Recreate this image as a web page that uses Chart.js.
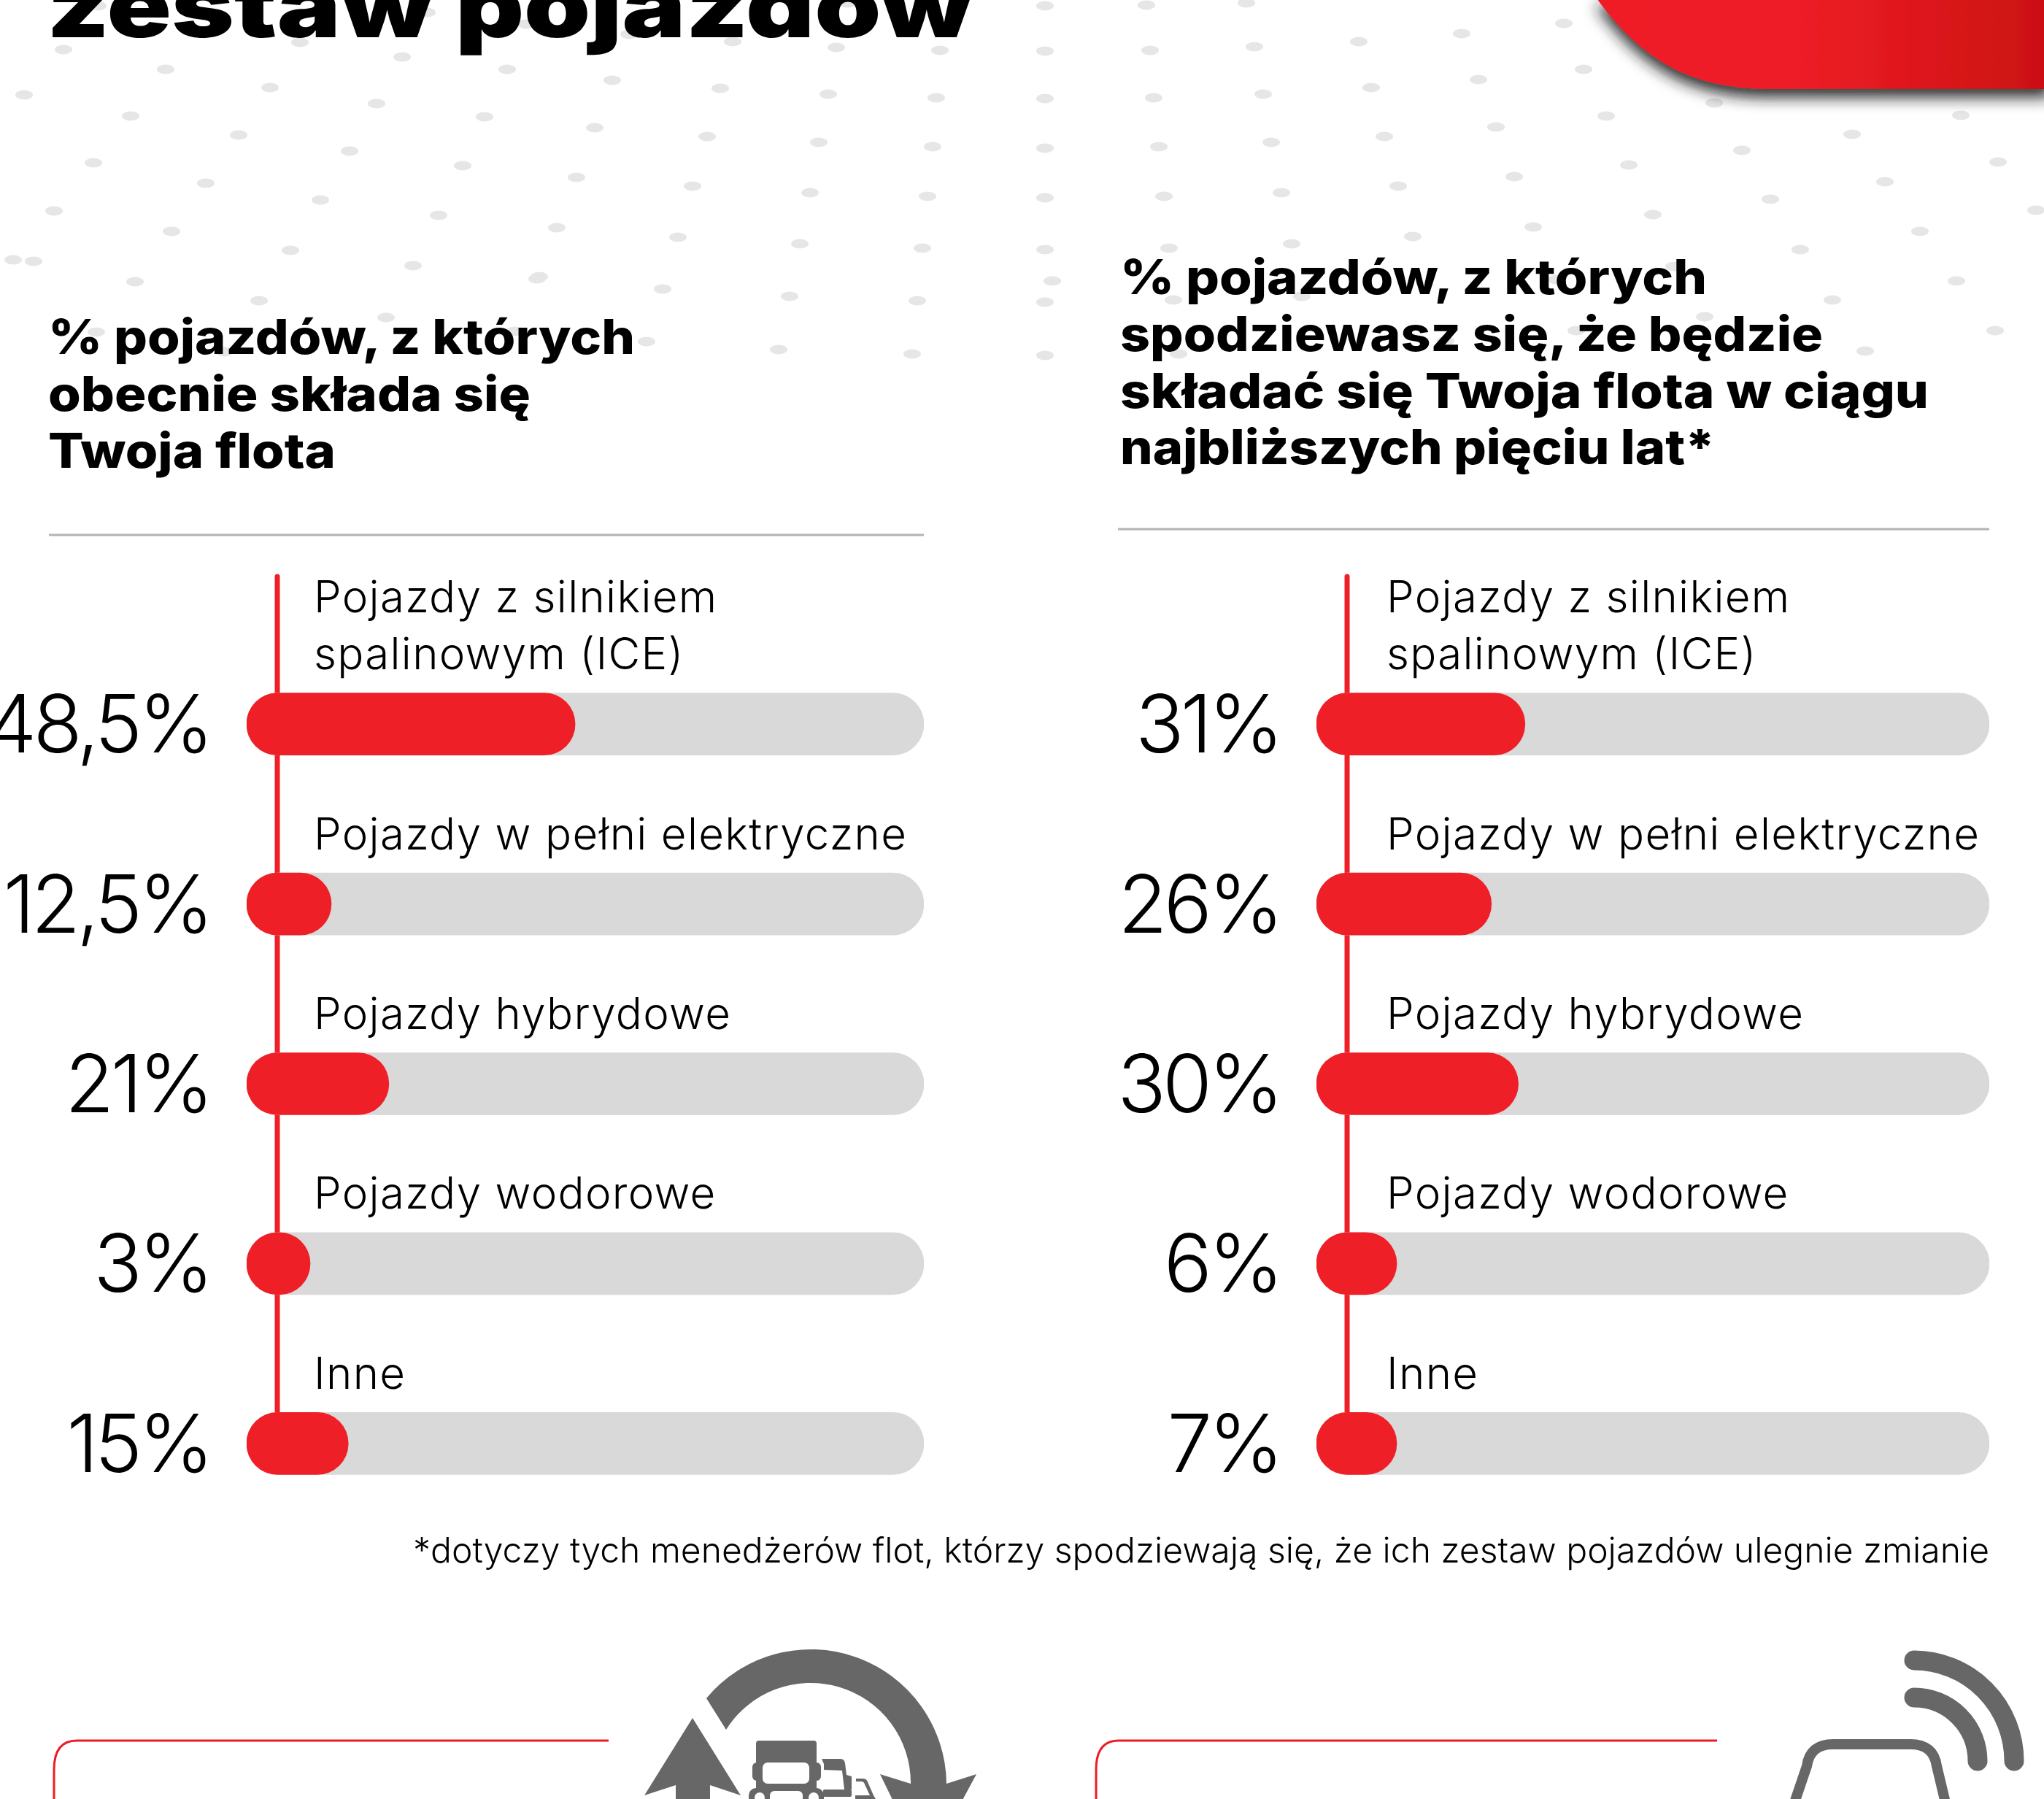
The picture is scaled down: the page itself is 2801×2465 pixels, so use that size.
<!DOCTYPE html>
<html lang="pl">
<head>
<meta charset="utf-8">
<title>Zestaw pojazdów</title>
<script src="https://cdn.jsdelivr.net/npm/chart.js@4"></script>
<style>
  html, body { margin: 0; padding: 0; background: #fff; width: 2801px; height: 2465px; overflow: hidden; }
  svg { position: absolute; left: 0; top: 0; }
  canvas { position: absolute; }
  #chartNow { left: 0; top: 770px; }
  #chartNext { left: 1400px; top: 770px; }
  .title { font: 900 120px Inter, sans-serif; }
  .head { font: 800 66px Inter, sans-serif; }
  .note { font: 300 48px Inter, sans-serif; }
</style>
</head>
<body>
<svg id="page" width="2801" height="2465" viewBox="0 0 2801 2465">
  <defs>
    <linearGradient id="ribbon" x1="0" x2="1" y1="0" y2="0">
      <stop offset="0" stop-color="#ef1f27"/>
      <stop offset="0.45" stop-color="#ed1e26"/>
      <stop offset="1" stop-color="#cb1011"/>
    </linearGradient>
    <filter id="ribbonShadow" x="-10%" y="-10%" width="120%" height="160%">
      <feDropShadow dx="0" dy="12" stdDeviation="10" flood-color="#1a1a1a" flood-opacity="0.9"/>
    </filter>
  </defs>
  <g id="dots" fill="#e6e6e6"></g>

  <path d="M2186,-5 C2250,85 2320,122 2427,122 L2810,122 L2810,-5 Z" fill="url(#ribbon)" filter="url(#ribbonShadow)"/>

  <text class="title" x="64" y="51" textLength="1270" lengthAdjust="spacingAndGlyphs">zestaw pojazdów</text>

  <text class="head" x="66" y="485" textLength="804" lengthAdjust="spacingAndGlyphs">% pojazdów, z których</text>
  <text class="head" x="66" y="563" textLength="661" lengthAdjust="spacingAndGlyphs">obecnie składa się</text>
  <text class="head" x="66" y="641" textLength="394" lengthAdjust="spacingAndGlyphs">Twoja flota</text>
  <line x1="67" x2="1266" y1="733" y2="733" stroke="#b3b3b3" stroke-width="3"/>

  <text class="head" x="1535" y="403" textLength="804" lengthAdjust="spacingAndGlyphs">% pojazdów, z których</text>
  <text class="head" x="1535" y="481" textLength="963" lengthAdjust="spacingAndGlyphs">spodziewasz się, że będzie</text>
  <text class="head" x="1535" y="559" textLength="1108" lengthAdjust="spacingAndGlyphs">składać się Twoja flota w ciągu</text>
  <text class="head" x="1535" y="636" textLength="815" lengthAdjust="spacingAndGlyphs">najbliższych pięciu lat*</text>
  <line x1="1532" x2="2726" y1="725" y2="725" stroke="#b3b3b3" stroke-width="3"/>

  <text class="note" x="566" y="2141" textLength="2160" lengthAdjust="spacingAndGlyphs">*dotyczy tych menedżerów flot, którzy spodziewają się, że ich zestaw pojazdów ulegnie zmianie</text>

  <!-- ramki na dole -->
  <path d="M834,2385 L105,2385 Q74,2385 74,2425 L74,2470" fill="none" stroke="#ed1c24" stroke-width="3"/>
  <path d="M2353,2385 L1533,2385 Q1502,2385 1502,2425 L1502,2470" fill="none" stroke="#ed1c24" stroke-width="3"/>

  <!-- ikona: strzalki i ciezarowki -->
  <g fill="#676767">
    <path d="M968,2327 A186,186 0 0 1 1297,2444 L1248,2444 A137,137 0 0 0 995,2370 Z"/>
    <path d="M1206,2431 L1248,2444 L1297,2444 L1338,2431 L1317,2470 L1225,2470 Z"/>
    <path d="M949,2354 L1015,2460 L973,2446 L973,2470 L926,2470 L926,2446 L883,2460 Z"/>
    <!-- pierwsza ciezarowka -->
    <rect x="1036" y="2385" width="83" height="70" rx="4"/>
    <rect x="1031" y="2415" width="94" height="25" rx="6"/>
    <rect x="1045" y="2415" width="64" height="29" rx="7" fill="#fff"/>
    <rect x="1026" y="2450" width="103" height="25" rx="10"/>
    <circle cx="1041" cy="2463" r="7" fill="#fff"/>
    <circle cx="1115" cy="2463" r="7" fill="#fff"/>
    <rect x="1055" y="2454" width="45" height="20" rx="6" fill="#fff"/>
    <!-- druga -->
    <path d="M1126,2410 L1152,2410 Q1157,2410 1158,2416 L1160,2432 L1167,2434 L1167,2452 L1157,2452 L1154,2426 L1129,2425 L1129,2417 Z"/>
    <rect x="1128" y="2452" width="39" height="10" rx="2"/>
    <rect x="1130" y="2462" width="38" height="6" fill="#fff"/>
    <!-- trzecia -->
    <path d="M1173,2437 L1183,2437 Q1188,2437 1190,2444 L1197,2460 L1200,2465 L1172,2465 L1172,2460 L1192,2460 L1185,2445 Q1184,2441 1180,2441 L1173,2441 Z"/>
  </g>

  <!-- ikona: auto i sygnal -->
  <g fill="none" stroke="#676767" stroke-linecap="round">
    <path d="M2623,2275 A137,138 0 0 1 2760,2413" stroke-width="27"/>
    <path d="M2623,2326 A87,87 0 0 1 2710,2413" stroke-width="27"/>
    <path d="M2459,2470 L2476,2420 Q2480,2390 2512,2390 L2618,2390 Q2650,2390 2654,2420 L2666,2470" stroke-width="14" stroke-linecap="butt"/>
  </g>
</svg>
<canvas id="chartNow" width="1400" height="1400"></canvas>
<canvas id="chartNext" width="1401" height="1400"></canvas>

<script>
// DANE
const categories = [
    ['Pojazdy z silnikiem', 'spalinowym (ICE)'],
    ['Pojazdy w pełni elektryczne'],
    ['Pojazdy hybrydowe'],
    ['Pojazdy wodorowe'],
    ['Inne']
];
const valuesNow = [48.5, 12.5, 21, 3, 15];
const valuesNext = [31, 26, 30, 6, 7];
const tickLabelsNow = ['48,5%', '12,5%', '21%', '3%', '15%'];
const tickLabelsNext = ['31%', '26%', '30%', '6%', '7%'];
const trackValues = [100, 100, 100, 100, 100];

const RED = '#ef1f27';
const TRACK = '#d9d9d9';

// KROPKI W TLE
const dotPositions = [
    [87,68],[227,95],[33,130],[370,120],[516,142],[179,159],[327,185],[664,160],[815,175],[969,187],[1122,195],[1278,201],
    [128,223],[479,207],[634,227],[282,251],[790,243],[949,255],[1110,264],[1271,269],[74,289],[439,274],[601,295],[763,312],
    [929,325],[1096,334],[1264,340],[235,317],[398,343],[18,356],[46,358],[566,364],[185,386],[739,379],[736,382],[908,396],
    [1082,406],[1257,412],[355,412],[529,435],[132,455],[886,468],[1067,479],[1250,485],[705,454],[308,482],[551,78],[695,95],
    [839,110],[987,121],[1135,129],[1283,134],[411,58],[1004,57],[1146,65],[1288,69],[585,17],[721,33],[862,47],[134,8],[1161,4],
    [1432,8],[1571,7],[1708,4],[1432,70],[1576,69],[1719,64],[1862,57],[2003,46],[2143,32],[1432,135],[1581,134],[1731,129],
    [1879,120],[2026,109],[2170,95],[1432,203],[1588,201],[1742,195],[1897,187],[2050,174],[2201,159],[2349,141],[2687,158],
    [2538,184],[2387,206],[2232,226],[2075,242],[1916,255],[1756,264],[1595,269],[1432,271],[2738,222],[2583,249],[2426,273],
    [2265,294],[2101,311],[1936,324],[1770,334],[1602,340],[1432,342],[2790,288],[2631,317],[2467,342],[1442,385],[1432,414],
    [1608,411],[1784,406],[2511,411],[2681,385],[2336,434],[2160,453],[1981,467],[1432,487],[1615,485],[2556,481],[2734,453],
    [2133,383],[2294,365]
];
document.getElementById('dots').innerHTML = dotPositions
    .map(d => `<ellipse cx="${d[0]}" cy="${d[1]}" rx="12" ry="6.5"/>`)
    .join('');

// Czerwona os i podpisy nad paskami
const rowDecor = {
    id: 'rowDecor',
    beforeDraw(chart) {
        // ciasniejsze cyfry na osi
        chart.ctx.letterSpacing = '-5px';
    },
    beforeDatasetsDraw(chart) {
        const ctx = chart.ctx;
        const y = chart.scales.y;
        const axisX = chart.chartArea.left + 42;
        ctx.save();
        ctx.strokeStyle = RED;
        ctx.lineWidth = 7;
        ctx.lineCap = 'round';
        ctx.beginPath();
        ctx.moveTo(axisX, 20);
        ctx.lineTo(axisX, y.getPixelForValue(categories.length - 1));
        ctx.stroke();
        ctx.restore();
    },
    afterDraw(chart, args, opts) {
        const ctx = chart.ctx;
        const y = chart.scales.y;
        ctx.save();
        ctx.fillStyle = '#000';
        ctx.font = '300 60px Inter, sans-serif';
        ctx.letterSpacing = '1.3px';
        ctx.textAlign = 'left';
        ctx.textBaseline = 'alphabetic';
        categories.forEach((lines, i) => {
            const bottom = y.getPixelForValue(i) - 75;
            lines.forEach((line, n) => {
                ctx.fillText(line, chart.chartArea.left + opts.labelGap, bottom - (lines.length - 1 - n) * 78);
            });
        });
        ctx.restore();
    }
};

function drawPanel(canvasId, values, tickLabels, axisWidth, rightGap, minLength, labelGap) {
    return new Chart(document.getElementById(canvasId), {
        type: 'bar',
        data: {
            labels: categories.map(c => c.join(' ')),
            datasets: [
                {
                    data: values,
                    backgroundColor: RED,
                    borderRadius: 43,
                    borderSkipped: false,
                    barThickness: 85,
                    minBarLength: minLength,
                    grouped: false,
                    order: 1
                },
                {
                    data: trackValues,
                    backgroundColor: TRACK,
                    borderRadius: 43,
                    borderSkipped: false,
                    barThickness: 85,
                    grouped: false,
                    order: 2
                }
            ]
        },
        options: {
            indexAxis: 'y',
            responsive: false,
            animation: false,
            devicePixelRatio: 1,
            layout: {
                autoPadding: false,
                padding: { top: 99, bottom: 69, left: 0, right: rightGap }
            },
            scales: {
                x: { display: false, min: 0, max: 100 },
                y: {
                    grid: { display: false, drawTicks: false },
                    border: { display: false },
                    afterFit(scale) {
                        scale.width = axisWidth;
                        scale.paddingTop = 0;
                        scale.paddingBottom = 0;
                    },
                    ticks: {
                        autoSkip: false,
                        padding: 50,
                        labelOffset: 6,
                        color: '#000',
                        font: { family: 'Inter, sans-serif', size: 110, weight: 300 },
                        callback: (value, index) => tickLabels[index]
                    }
                }
            },
            plugins: {
                legend: { display: false },
                tooltip: { enabled: false },
                rowDecor: { labelGap: labelGap }
            }
        },
        plugins: [rowDecor]
    });
}

drawPanel('chartNow', valuesNow, tickLabelsNow, 338, 134, 87, 92);
drawPanel('chartNext', valuesNext, tickLabelsNext, 404, 75, 110, 96);
</script>
</body>
</html>
